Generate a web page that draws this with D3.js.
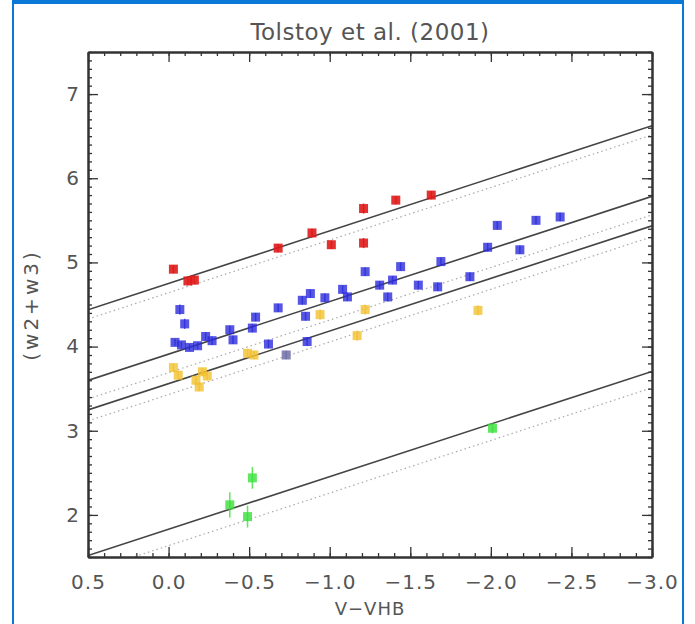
<!DOCTYPE html>
<html>
<head>
<meta charset="utf-8">
<script src="https://cdn.jsdelivr.net/npm/d3@7"></script>
<style>
  body { margin: 0; background: #fff; }
  text { font-family: "DejaVu Sans", sans-serif; fill: #555; }
</style>
</head>
<body>
<svg id="chart" width="695" height="624"></svg>
<script>
// tick labels
const xTicks = [0.5, 0.0, -0.5, -1.0, -1.5, -2.0, -2.5, -3.0];
const yTicks = [2, 3, 4, 5, 6, 7];

// measurements: [V-VHB, (w2+w3), error]
const redPoints = [
  [-0.03, 4.92, 0.05], [-0.12, 4.78, 0.05], [-0.16, 4.79, 0.05], [-0.68, 5.17, 0.05],
  [-0.89, 5.35, 0.05], [-1.01, 5.21, 0.05], [-1.21, 5.64, 0.06], [-1.21, 5.23, 0.06],
  [-1.41, 5.74, 0.05], [-1.63, 5.80, 0.05]
];
const bluePoints = [
  [-0.07, 4.44, 0.06], [-0.10, 4.27, 0.06], [-0.04, 4.05, 0.04], [-0.08, 4.02, 0.04],
  [-0.13, 3.99, 0.04], [-0.18, 4.01, 0.04], [-0.23, 4.12, 0.05], [-0.27, 4.07, 0.05],
  [-0.38, 4.20, 0.05], [-0.40, 4.08, 0.05], [-0.52, 4.22, 0.05], [-0.54, 4.35, 0.05],
  [-0.62, 4.03, 0.05], [-0.68, 4.46, 0.05], [-0.83, 4.55, 0.05], [-0.85, 4.36, 0.05],
  [-0.86, 4.06, 0.05], [-0.88, 4.63, 0.05], [-0.97, 4.58, 0.05], [-1.08, 4.68, 0.05],
  [-1.11, 4.59, 0.05], [-1.22, 4.89, 0.05], [-1.31, 4.73, 0.05], [-1.36, 4.59, 0.05],
  [-1.39, 4.79, 0.05], [-1.44, 4.95, 0.05], [-1.55, 4.73, 0.05], [-1.67, 4.71, 0.05],
  [-1.69, 5.01, 0.05], [-1.87, 4.83, 0.05], [-1.98, 5.18, 0.05], [-2.04, 5.44, 0.05],
  [-2.18, 5.15, 0.05], [-2.28, 5.50, 0.05], [-2.43, 5.54, 0.05]
];
const grayPoints = [[-0.73, 3.90, 0.05]];
const yellowPoints = [
  [-0.03, 3.75, 0.05], [-0.06, 3.66, 0.05], [-0.17, 3.60, 0.05], [-0.19, 3.52, 0.05],
  [-0.24, 3.65, 0.05], [-0.21, 3.70, 0.05], [-0.49, 3.92, 0.05], [-0.53, 3.90, 0.05],
  [-0.94, 4.38, 0.06], [-1.17, 4.13, 0.06], [-1.22, 4.44, 0.06], [-1.92, 4.43, 0.06]
];
const greenPoints = [
  [-0.38, 2.12, 0.15], [-0.49, 1.98, 0.13], [-0.52, 2.44, 0.13], [-2.01, 3.03, 0.06]
];

// fit lines: (w2+w3) = intercept - slope * (V-VHB)
const fitSlope = 0.625;
const solidIntercepts = [4.75, 3.91, 3.56, 1.83];
const dottedIntercepts = [4.64, 3.69, 3.43, 1.635];

const margin = {left: 88, right: 43, top: 52, bottom: 67};
const width = 695 - margin.left - margin.right;
const height = 624 - margin.top - margin.bottom;

const svg = d3.select("#chart");

// outer blue frame
svg.append("rect").attr("x", 13).attr("y", 0).attr("width", 670).attr("height", 4).attr("fill", "#0a78d6");
svg.append("rect").attr("x", 12).attr("y", 0).attr("width", 2).attr("height", 624).attr("fill", "#0a78d6");
svg.append("rect").attr("x", 682).attr("y", 0).attr("width", 2).attr("height", 624).attr("fill", "#0a78d6");

const g = svg.append("g").attr("transform", "translate(" + margin.left + "," + margin.top + ")");

const x = d3.scaleLinear().domain([0.5, -3.0]).range([0, width]);
const y = d3.scaleLinear().domain([1.5, 7.5]).range([height, 0]);

g.append("clipPath").attr("id", "plot").append("rect").attr("width", width).attr("height", height);

// fit lines
const plot = g.append("g").attr("clip-path", "url(#plot)");
const fitLine = (a) => [[0.5, a - fitSlope * 0.5], [-3.0, a + fitSlope * 3.0]];
const line = d3.line().x(d => x(d[0])).y(d => y(d[1]));

plot.selectAll(".dotted").data(dottedIntercepts).enter().append("path")
  .attr("d", a => line(fitLine(a)))
  .attr("fill", "none").attr("stroke", "#aaa").attr("stroke-width", 1.2)
  .attr("stroke-dasharray", "1.5,3");

plot.selectAll(".solid").data(solidIntercepts).enter().append("path")
  .attr("d", a => line(fitLine(a)))
  .attr("fill", "none").attr("stroke", "#444").attr("stroke-width", 1.6);

// points with error bars
function drawPoints(data, color, opacity) {
  const pg = plot.append("g");
  pg.selectAll("line").data(data).enter().append("line")
    .attr("x1", d => x(d[0])).attr("x2", d => x(d[0]))
    .attr("y1", d => y(d[1] - d[2])).attr("y2", d => y(d[1] + d[2]))
    .attr("stroke", color).attr("stroke-width", 1.5).attr("opacity", opacity);
  pg.selectAll("rect").data(data).enter().append("rect")
    .attr("x", d => x(d[0]) - 4.5).attr("y", d => y(d[1]) - 4.5)
    .attr("width", 9).attr("height", 9)
    .attr("fill", color).attr("opacity", opacity);
}
drawPoints(yellowPoints, "#f2c030", 0.8);
drawPoints(grayPoints, "#7070a8", 0.85);
drawPoints(bluePoints, "#2c2cdc", 0.8);
drawPoints(redPoints, "#e01a1a", 0.9);
drawPoints(greenPoints, "#38e038", 0.8);

// axes: major and minor ticks on all four sides
const xMinor = d3.range(5, -31, -1).map(v => v / 10);
const yMinor = d3.range(15, 76, 1).map(v => v / 10);
const fmtX = d3.format(".1f");

function styleAxis(sel) {
  sel.selectAll("path").attr("stroke", "#333").attr("stroke-width", 2);
  sel.selectAll("line").attr("stroke", "#333").attr("stroke-width", 1.3);
  sel.selectAll("text").attr("fill", "#666").style("font-size", "20px")
    .style("letter-spacing", "1px")
    .style("font-family", "DejaVu Sans, sans-serif");
}

g.append("g").attr("transform", "translate(0," + height + ")")
  .call(d3.axisBottom(x).tickValues(xMinor).tickSize(-4).tickFormat("").tickSizeOuter(0)).call(styleAxis);
g.append("g").attr("transform", "translate(0," + height + ")")
  .call(d3.axisBottom(x).tickValues(xTicks).tickSize(-10).tickSizeOuter(0).tickPadding(18).tickFormat(fmtX))
  .call(styleAxis);
g.append("g")
  .call(d3.axisTop(x).tickValues(xMinor).tickSize(-4).tickFormat("").tickSizeOuter(0)).call(styleAxis);
g.append("g")
  .call(d3.axisTop(x).tickValues(xTicks).tickSize(-10).tickFormat("").tickSizeOuter(0)).call(styleAxis);

g.append("g")
  .call(d3.axisLeft(y).tickValues(yMinor).tickSize(-4).tickFormat("").tickSizeOuter(0)).call(styleAxis);
g.append("g")
  .call(d3.axisLeft(y).tickValues(yTicks).tickSize(-10).tickSizeOuter(0).tickPadding(8).tickFormat(d3.format("d")))
  .call(styleAxis);
g.append("g").attr("transform", "translate(" + width + ",0)")
  .call(d3.axisRight(y).tickValues(yMinor).tickSize(-4).tickFormat("").tickSizeOuter(0)).call(styleAxis);
g.append("g").attr("transform", "translate(" + width + ",0)")
  .call(d3.axisRight(y).tickValues(yTicks).tickSize(-10).tickFormat("").tickSizeOuter(0)).call(styleAxis);

// titles
svg.append("text").attr("x", 370).attr("y", 40).attr("text-anchor", "middle")
  .style("font-size", "23px").style("letter-spacing", "0.5px").attr("fill", "#555").text("Tolstoy et al. (2001)");
svg.append("text").attr("x", 370).attr("y", 615).attr("text-anchor", "middle")
  .style("font-size", "18px").style("letter-spacing", "1px").attr("fill", "#666").text("V\u2212VHB");
svg.append("text").attr("transform", "translate(38,305) rotate(-90)").attr("text-anchor", "middle")
  .style("font-size", "20px").style("letter-spacing", "3px").attr("fill", "#666").text("(w2+w3)");
</script>
</body>
</html>
